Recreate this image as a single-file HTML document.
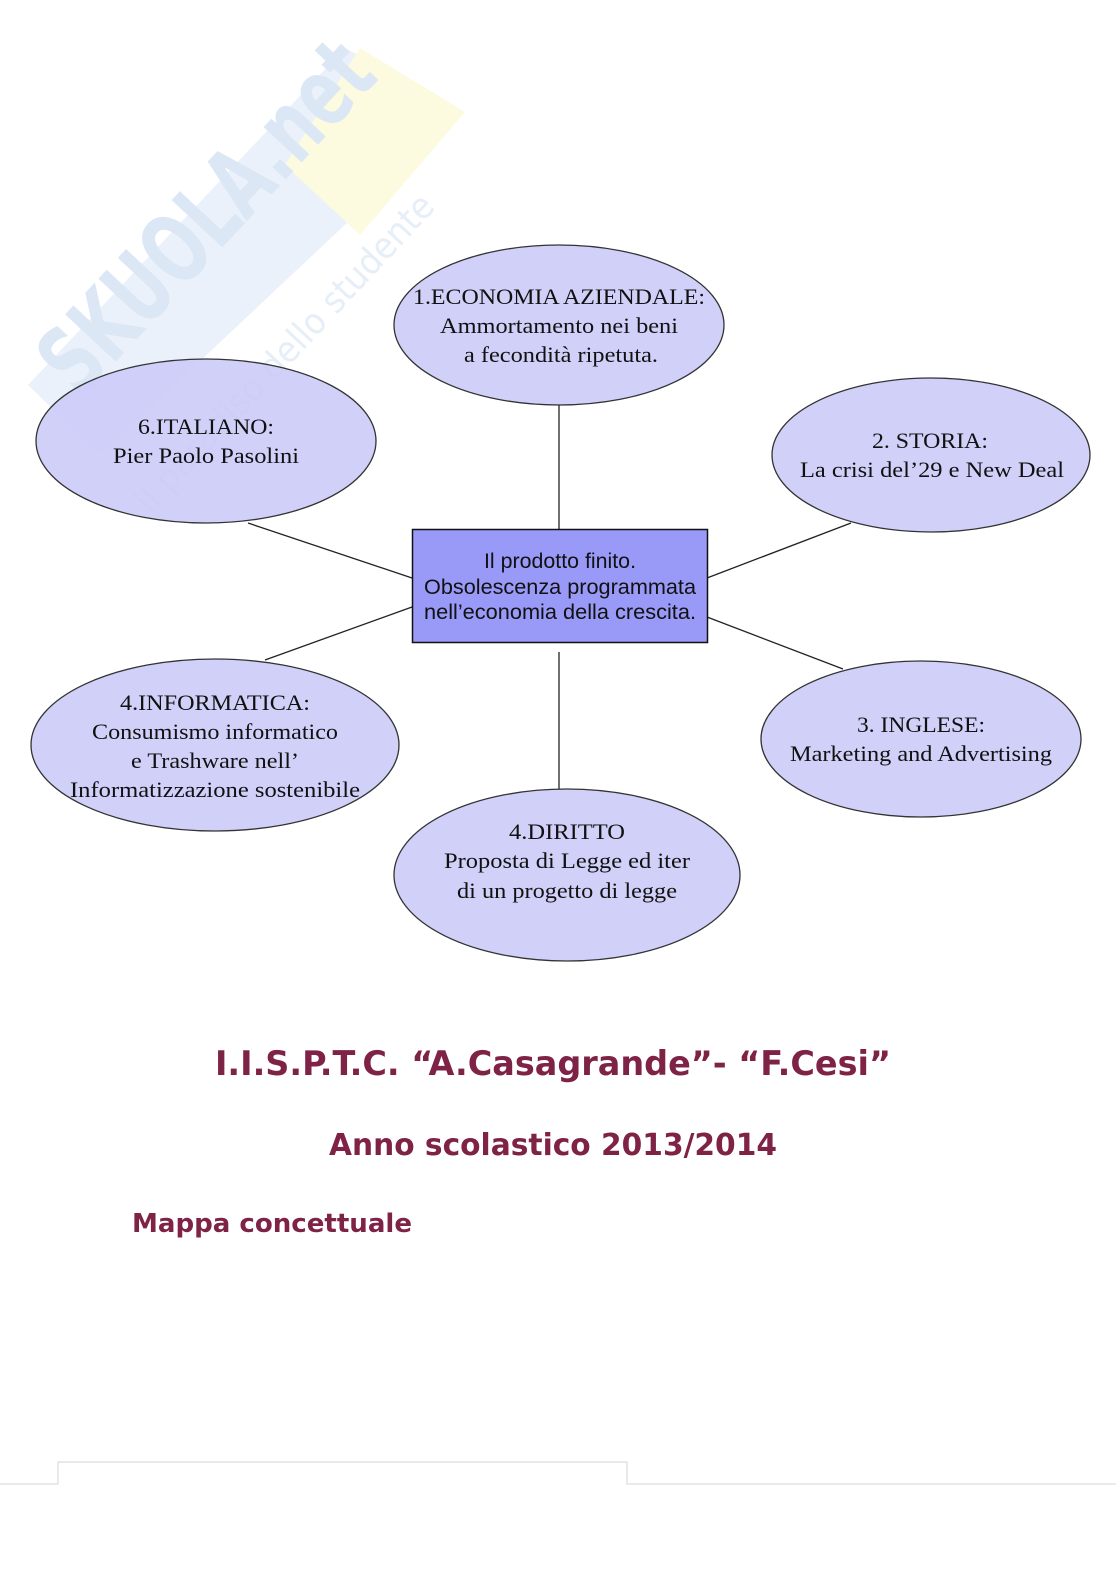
<!DOCTYPE html>
<html><head><meta charset="utf-8"><style>
html,body{margin:0;padding:0;background:#fff;}
body{width:1116px;height:1579px;overflow:hidden;position:relative;}
svg{position:absolute;left:0;top:0;}
</style></head><body>
<svg width="1116" height="1579" viewBox="0 0 1116 1579" xmlns="http://www.w3.org/2000/svg">
<!-- watermark -->
<polygon points="28,385 345,48 465,112 100,455" fill="#eaf1fa"/>
<polygon points="285,165 360,48 465,112 360,235" fill="#fcfbe0"/>
<text x="0" y="0" transform="translate(80,400) rotate(-47)" font-family="DejaVu Sans, sans-serif" font-weight="bold" font-size="95" fill="#dbe7f5" textLength="440" lengthAdjust="spacingAndGlyphs">SKUOLA.net</text>
<text x="0" y="0" transform="translate(150,515) rotate(-47)" font-family="DejaVu Sans, sans-serif" font-size="36" fill="#e6eef8" textLength="420" lengthAdjust="spacingAndGlyphs">il paradiso dello studente</text>

<g stroke="#222" stroke-width="1.3" fill="none">
<line x1="559" y1="404" x2="559" y2="529"/>
<line x1="248" y1="523" x2="412" y2="578"/>
<line x1="707" y1="578" x2="851" y2="523"/>
<line x1="265" y1="660" x2="412" y2="607"/>
<line x1="707" y1="617" x2="843" y2="669"/>
<line x1="559" y1="652" x2="559" y2="789"/>
</g>
<g fill="#ccccf8" fill-opacity="0.92" stroke="#333" stroke-width="1.3">
<ellipse cx="559" cy="325" rx="165" ry="80"/>
<ellipse cx="206" cy="441" rx="170" ry="82"/>
<ellipse cx="931" cy="455" rx="159" ry="77"/>
<ellipse cx="215" cy="745" rx="184" ry="86"/>
<ellipse cx="921" cy="739" rx="160" ry="78"/>
<ellipse cx="567" cy="875" rx="173" ry="86"/>
</g>
<rect x="412.5" y="529.5" width="295" height="113" fill="#9999f8" stroke="#111" stroke-width="1.5"/>
<g font-family="Liberation Sans, sans-serif" font-size="21" fill="#111" text-anchor="middle" lengthAdjust="spacingAndGlyphs">
<text x="560" y="568" textLength="152" lengthAdjust="spacingAndGlyphs">Il prodotto finito.</text>
<text x="560" y="594" textLength="272" lengthAdjust="spacingAndGlyphs">Obsolescenza programmata</text>
<text x="560" y="619" textLength="272" lengthAdjust="spacingAndGlyphs">nell’economia della crescita.</text>
</g>
<g font-family="Liberation Serif, serif" font-size="22" fill="#111" text-anchor="middle">
<text x="559" y="304" textLength="292" lengthAdjust="spacingAndGlyphs">1.ECONOMIA AZIENDALE:</text>
<text x="559" y="333" textLength="238" lengthAdjust="spacingAndGlyphs">Ammortamento nei beni</text>
<text x="561" y="362" textLength="194" lengthAdjust="spacingAndGlyphs">a fecondità ripetuta.</text>
<text x="206" y="434" textLength="136" lengthAdjust="spacingAndGlyphs">6.ITALIANO:</text>
<text x="206" y="463" textLength="186" lengthAdjust="spacingAndGlyphs">Pier Paolo Pasolini</text>
<text x="930" y="448" textLength="116" lengthAdjust="spacingAndGlyphs">2. STORIA:</text>
<text x="932" y="477" textLength="264" lengthAdjust="spacingAndGlyphs">La crisi del’29 e New Deal</text>
<text x="921" y="732" textLength="128" lengthAdjust="spacingAndGlyphs">3. INGLESE:</text>
<text x="921" y="761" textLength="262" lengthAdjust="spacingAndGlyphs">Marketing and Advertising</text>
<text x="215" y="710" textLength="190" lengthAdjust="spacingAndGlyphs">4.INFORMATICA:</text>
<text x="215" y="739" textLength="246" lengthAdjust="spacingAndGlyphs">Consumismo informatico</text>
<text x="215" y="768" textLength="168" lengthAdjust="spacingAndGlyphs">e Trashware nell’</text>
<text x="215" y="797" textLength="290" lengthAdjust="spacingAndGlyphs">Informatizzazione sostenibile</text>
<text x="567" y="839" textLength="116" lengthAdjust="spacingAndGlyphs">4.DIRITTO</text>
<text x="567" y="868" textLength="246" lengthAdjust="spacingAndGlyphs">Proposta di Legge  ed iter</text>
<text x="567" y="898" textLength="220" lengthAdjust="spacingAndGlyphs">di un progetto di legge</text>
</g>
<g font-family="DejaVu Sans Condensed, DejaVu Sans, sans-serif" font-weight="bold" fill="#7f2346">
<text x="553" y="1075" font-size="34" text-anchor="middle" textLength="676" lengthAdjust="spacingAndGlyphs">I.I.S.P.T.C. “A.Casagrande”- “F.Cesi”</text>
<text x="553" y="1155" font-size="30" text-anchor="middle" textLength="448" lengthAdjust="spacingAndGlyphs">Anno scolastico 2013/2014</text>
<text x="132" y="1232" font-size="26" textLength="280" lengthAdjust="spacingAndGlyphs">Mappa concettuale</text>
</g>
<g stroke="#ddd" stroke-width="1.2" fill="none">
<polyline points="0,1484 58,1484 58,1462 627,1462 627,1484 1116,1484"/>
</g>
</svg>
</body></html>
